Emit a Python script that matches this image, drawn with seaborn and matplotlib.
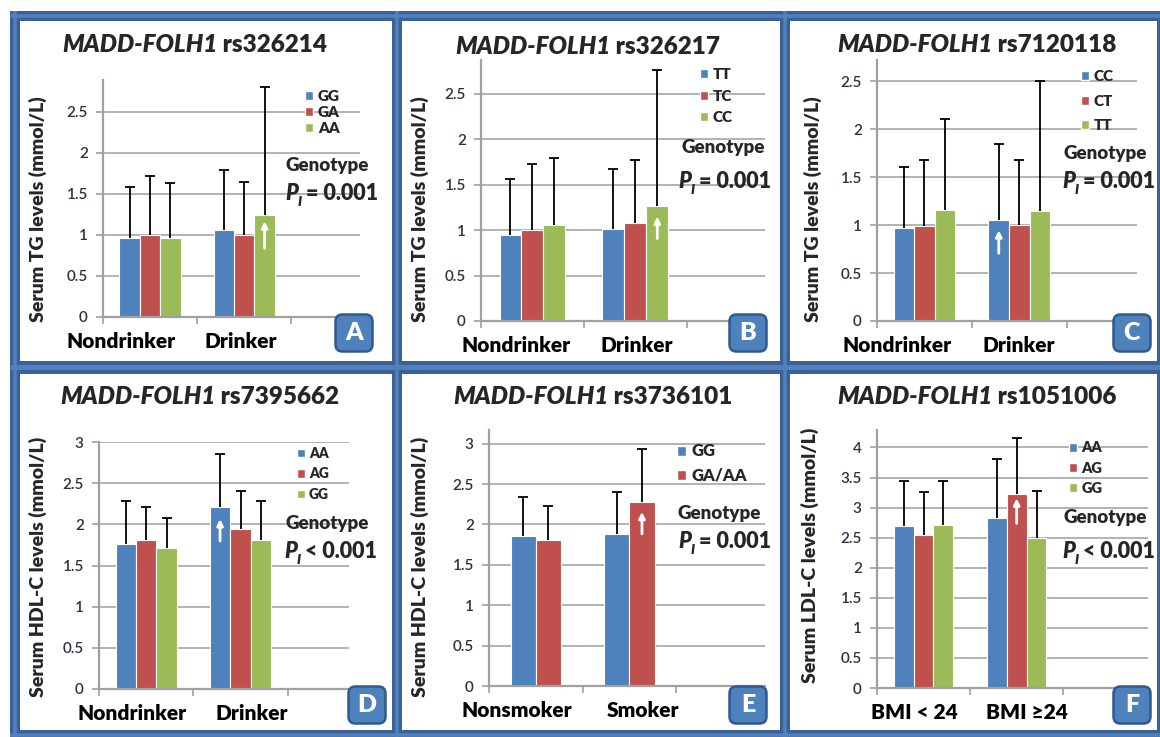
import numpy as np
import pandas as pd
import matplotlib
matplotlib.use("Agg")
import matplotlib.pyplot as plt
import matplotlib.transforms as mtrans
import seaborn as sns
from matplotlib.patches import Patch, FancyBboxPatch
from matplotlib.lines import Line2D
from matplotlib.colors import to_hex
from matplotlib.ticker import FuncFormatter

sns.set_theme(style="white")
plt.rcParams["font.family"] = ["Lato", "DejaVu Sans"]

W, H = 1160, 737
BOLD = "heavy"

# ---- data -------------------------------------------------------------
gene = "MADD-FOLH1"
snps = ["rs326214", "rs326217", "rs7120118", "rs7395662", "rs3736101", "rs1051006"]
letters = ["A", "B", "C", "D", "E", "F"]
ylabels = ["Serum TG levels (mmol/L)"] * 3 + ["Serum HDL-C levels (mmol/L)"] * 2 + ["Serum LDL-C levels (mmol/L)"]
p_texts = ["= 0.001", "= 0.001", "= 0.001", "< 0.001", "= 0.001", "< 0.001"]

drink = ["Nondrinker", "Drinker"]
smoke = ["Nonsmoker", "Smoker"]
bmi = ["BMI < 24", "BMI ≥24"]

# rows = genotype, columns = group ; upper = mean + SD
a_geno = ["GG", "GA", "AA"]
a_mean = [[0.96, 1.06], [1.00, 1.00], [0.96, 1.24]]
a_upper = [[1.59, 1.79], [1.72, 1.65], [1.64, 2.81]]
a_up = ("Drinker", "AA")

b_geno = ["TT", "TC", "CC"]
b_mean = [[0.95, 1.01], [1.00, 1.08], [1.06, 1.27]]
b_upper = [[1.56, 1.67], [1.73, 1.77], [1.79, 2.76]]
b_up = ("Drinker", "CC")

c_geno = ["CC", "CT", "TT"]
c_mean = [[0.97, 1.05], [0.99, 1.00], [1.16, 1.15]]
c_upper = [[1.61, 1.84], [1.68, 1.68], [2.10, 2.50]]
c_up = ("Drinker", "CC")

d_geno = ["AA", "AG", "GG"]
d_mean = [[1.76, 2.21], [1.81, 1.94], [1.71, 1.81]]
d_upper = [[2.28, 2.85], [2.21, 2.41], [2.08, 2.28]]
d_up = ("Drinker", "AA")

e_geno = ["GG", "GA/AA"]
e_mean = [[1.86, 1.88], [1.81, 2.28]]
e_upper = [[2.34, 2.40], [2.23, 2.94]]
e_up = ("Smoker", "GA/AA")

f_geno = ["AA", "AG", "GG"]
f_mean = [[2.69, 2.83], [2.54, 3.22], [2.71, 2.49]]
f_upper = [[3.45, 3.80], [3.26, 4.15], [3.45, 3.28]]
f_up = ("BMI ≥24", "AG")

panels = [
    (drink, a_geno, a_mean, a_upper, a_up),
    (drink, b_geno, b_mean, b_upper, b_up),
    (drink, c_geno, c_mean, c_upper, c_up),
    (drink, d_geno, d_mean, d_upper, d_up),
    (smoke, e_geno, e_mean, e_upper, e_up),
    (bmi, f_geno, f_mean, f_upper, f_up),
]

# ---- layout (pixels) --------------------------------------------------
palette = ["#4F81BD", "#C0504D", "#9BBB59"]
ax_boxes = [(103, 80, 360, 317), (481, 60, 765, 321), (877, 60, 1137, 321),
            (99, 442, 349, 689), (489, 430, 765, 686), (877, 430, 1148, 688)]
y_tops = [2.89, 2.87, 2.72, 3.0, 3.17, 4.29]
y_tickmax = [2.5, 2.5, 2.5, 3.0, 3.0, 4.0]
x_right = [2.23, 2.26, 2.24, 2.15, 2.45, 2.41]
bar_width = [0.65, 0.64, 0.65, 0.65, 0.54, 0.64]
xlabel_shift = [(-29, -3), (-16, 1), (-27, -1), (-14, 11), (-19, 14), (-9, 10)]
title_pos = [(62, 45), (455, 46), (837, 45), (60, 397), (453, 397), (837, 397)]
ylabel_pos = [(38, 209), (420, 209), (813, 209), (38, 567), (420, 567), (810, 555)]
legend_pos = [(305, 97), (700, 75), (1081, 77), (297, 453), (677, 451), (1069, 448)]
legend_fs = [11, 11, 11, 10, 12, 10.5]
legend_sp = [0.2, 0.55, 0.75, 0.55, 0.5, 0.5]
geno_pos = [(285, 165), (681, 147), (1063, 153), (285, 523), (678, 513), (1063, 518)]
p_pos = [(285, 194), (678, 182), (1062, 182), (284, 552), (678, 542), (1062, 552)]
badge_pos = [(354, 333), (748, 333), (1132, 333), (367, 705), (748, 705), (1132, 705)]
arrow_gap = [6, 11, 10, 12, 10, 4]
arrow_len = [27, 22, 23, 22, 22, 25]


def fx(x):
    return x / W


def fy(y):
    return 1 - y / H


fig = plt.figure(figsize=(W / 100, H / 100), dpi=100)
fig.patch.set_facecolor("white")

for i, (groups, geno, means, uppers, up) in enumerate(panels):
    l, t, r, b = ax_boxes[i]
    ax = fig.add_axes([fx(l), fy(b), (r - l) / W, (b - t) / H])

    rows = []
    for gi, g in enumerate(geno):
        for ci, c in enumerate(groups):
            rows.append({"group": c, "genotype": g, "mean": means[gi][ci], "upper": uppers[gi][ci]})
    df = pd.DataFrame(rows)
    pal = palette[:len(geno)]

    sns.barplot(data=df, x="group", y="mean", hue="genotype", order=groups + [""],
                hue_order=geno, palette=pal, saturation=1, width=bar_width[i],
                edgecolor="white", linewidth=0.8, errorbar=None, legend=False,
                ax=ax, zorder=2)

    # upward SD bars and the white arrows
    hexes = [to_hex(c) for c in pal]
    for bar in ax.patches:
        h = bar.get_height()
        if not np.isfinite(h) or h == 0:
            continue
        x = bar.get_x() + bar.get_width() / 2
        ci = int(round(x))
        g = geno[hexes.index(to_hex(bar.get_facecolor()))]
        top = df[(df.group == groups[ci]) & (df.genotype == g)]["upper"].iloc[0]
        eb = ax.errorbar(x, h, yerr=[[0], [top - h]], fmt="none", ecolor="black",
                         elinewidth=1.3, capsize=3.6, capthick=1.3, zorder=3)
        for cap in eb[1]:
            if abs(cap.get_ydata()[0] - h) < 1e-9:
                cap.set_visible(False)
        if (groups[ci], g) == up:
            gap = arrow_gap[i] * 0.72
            ln = arrow_len[i] * 0.72
            ax.annotate("", xy=(x, h), xytext=(0, -(gap + ln)), textcoords="offset points",
                        arrowprops=dict(arrowstyle="-|>", color="white", lw=2,
                                        mutation_scale=9, shrinkA=0, shrinkB=gap),
                        zorder=4)

    ax.set_xlim(-0.5, x_right[i])
    ax.set_ylim(0, y_tops[i])
    ax.set_yticks(np.arange(0, y_tickmax[i] + 0.01, 0.5))
    ax.yaxis.set_major_formatter(FuncFormatter(lambda v, _: f"{v:g}"))
    ax.set_xticks(range(len(groups)), groups)
    ax.set_xticks([-0.5, 0.5, 1.5], minor=True)
    ax.set_xlabel("")
    ax.set_ylabel(ylabels[i], fontsize=14, fontweight=BOLD, va="center")
    yl, ylpos = ylabel_pos[i]
    ax.yaxis.set_label_coords((yl - l) / (r - l), (b - ylpos) / (b - t))

    ax.set_axisbelow(True)
    ax.yaxis.grid(True, color="#A6A6A6", lw=1.2)
    ax.xaxis.grid(False)
    for s in ["top", "right"]:
        ax.spines[s].set_visible(False)
    for s in ["left", "bottom"]:
        ax.spines[s].set_color("#A0A0A0")
        ax.spines[s].set_linewidth(1.6)
    ax.tick_params(axis="y", left=True, length=5, width=1.2, color="#A0A0A0",
                   labelsize=11, labelcolor="#2b3340", pad=6)
    ax.tick_params(axis="x", which="major", bottom=True, length=0, pad=11,
                   labelsize=15, labelcolor="black")
    ax.tick_params(axis="x", which="minor", bottom=True, length=5, width=1.2,
                   color="#A0A0A0", direction="out")
    for lab, dx in zip(ax.get_xticklabels(), xlabel_shift[i]):
        lab.set_fontweight(BOLD)
        lab.set_transform(lab.get_transform() +
                          mtrans.ScaledTranslation(dx / 100, 0, fig.dpi_scale_trans))
    for lab in ax.get_yticklabels():
        lab.set_fontweight("semibold")

    # legend
    fs = legend_fs[i]
    lx, ly = legend_pos[i]
    handles = [Patch(facecolor=c, label=g) for c, g in zip(pal, geno)]
    ax.legend(handles=handles, loc="upper left",
              bbox_to_anchor=(fx(lx), fy(ly - 0.45 * fs / 0.72)),
              bbox_transform=fig.transFigure, frameon=False, borderpad=0,
              borderaxespad=0, handlelength=0.55, handleheight=0.55,
              handletextpad=0.3, labelspacing=legend_sp[i],
              prop={"size": fs, "weight": BOLD})

    # title: italic gene + snp
    tx, ty = title_pos[i]
    t1 = fig.text(fx(tx), fy(ty), gene, fontsize=17.5, fontweight=BOLD,
                  style="italic", va="center", ha="left")
    ax.annotate(" " + snps[i], xy=(1, 0), xycoords=t1, va="bottom", ha="left",
                fontsize=17.5, fontweight=BOLD)

    # genotype interaction p value
    gx, gy = geno_pos[i]
    fig.text(fx(gx), fy(gy), "Genotype", fontsize=13.5, fontweight=BOLD,
             va="center", ha="left")
    px_, py_ = p_pos[i]
    p1 = fig.text(fx(px_), fy(py_), "P", fontsize=15.5, fontweight=BOLD,
                  style="italic", va="center", ha="left")
    p2 = ax.annotate("I", xy=(0.95, 0.1), xycoords=p1, fontsize=10,
                     fontweight=BOLD, style="italic", va="center", ha="left")
    ax.annotate(" " + p_texts[i], xy=(1, 0), xycoords=(p2, p1), va="bottom",
                ha="left", fontsize=15.5, fontweight=BOLD)

    # letter badge
    bx, by = badge_pos[i]
    s = 37
    fig.add_artist(FancyBboxPatch(((bx - s / 2) / 100, (H - by - s / 2) / 100),
                                  s / 100, s / 100,
                                  boxstyle="round,pad=0,rounding_size=0.07",
                                  transform=fig.dpi_scale_trans,
                                  fc="#4F81BD", ec="#2F5A8E", lw=1.8, zorder=5))
    fig.text(fx(bx), fy(by), letters[i], color="white", fontsize=18,
             fontweight=BOLD, ha="center", va="center", zorder=6)

# blue frame lines
dark, light = "#3B6196", "#4F81BD"


def frame_line(xs, ys, w=10, inner=3.5):
    fig.add_artist(Line2D([fx(v) for v in xs], [fy(v) for v in ys],
                          color=dark, lw=w * 0.72, solid_capstyle="butt", zorder=7))
    if inner:
        fig.add_artist(Line2D([fx(v) for v in xs], [fy(v) for v in ys],
                              color=light, lw=inner * 0.72, solid_capstyle="butt", zorder=8))


frame_line([10, 1160], [16, 16])
frame_line([10, 1160], [367, 367], w=13, inner=5)
frame_line([10, 1160], [735, 735])
frame_line([15, 15], [11, 737])
frame_line([397, 397], [11, 737])
frame_line([785, 785], [11, 737])
frame_line([1159, 1159], [11, 737], w=4, inner=0)

fig.savefig("out.png", dpi=100)
